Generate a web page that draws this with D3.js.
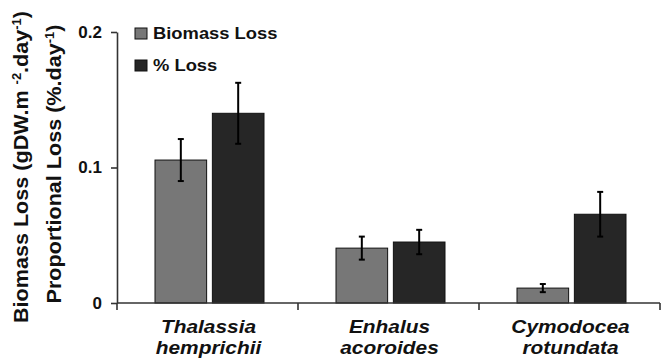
<!DOCTYPE html>
<html>
<head>
<meta charset="utf-8">
<script src="https://cdn.jsdelivr.net/npm/d3@7"></script>
<style>
  body { margin: 0; background: #fff; }
  svg { font-family: "Liberation Sans", Arial, sans-serif; font-weight: bold; }
</style>
</head>
<body>
<svg id="chart" width="662" height="363"></svg>
<script>
// species on the x axis (two lines each)
var species = [["Thalassia", "hemprichii"], ["Enhalus", "acoroides"], ["Cymodocea", "rotundata"]];
var seriesNames = ["Biomass Loss", "% Loss"];
var biomassLoss = [0.1055, 0.0405, 0.011];
var biomassErr = [0.0155, 0.0085, 0.003];
var pctLoss = [0.140, 0.045, 0.0655];
var pctErr = [0.0225, 0.009, 0.0165];
var yTicks = [0, 0.1, 0.2];
var colors = ["#777777", "#262626"];

var svg = d3.select('#chart');
var margin = {left: 117, top: 32, bottom: 303, right: 660};

var x = d3.scaleBand()
    .domain(d3.range(species.length))
    .range([margin.left, margin.right]);
var xInner = d3.scaleBand()
    .domain([0, 1])
    .range([0, 109])
    .paddingInner(0.1);
var y = d3.scaleLinear().domain([0, 0.2]).range([margin.bottom, margin.top]);

var data = [];
species.forEach(function(s, i) {
    data.push({cat: i, s: 0, v: biomassLoss[i], e: biomassErr[i]});
    data.push({cat: i, s: 1, v: pctLoss[i], e: pctErr[i]});
});

// bars
var groupOffset = (x.bandwidth() - 109) / 2 + 2;
svg.selectAll('rect.bar')
    .data(data)
    .enter().append('rect')
    .attr('class', 'bar')
    .attr('x', function(d) { return x(d.cat) + groupOffset + xInner(d.s); })
    .attr('y', function(d) { return y(d.v); })
    .attr('width', xInner.bandwidth())
    .attr('height', function(d) { return y(0) - y(d.v); })
    .attr('fill', function(d) { return colors[d.s]; })
    .attr('stroke', '#111')
    .attr('stroke-width', 1);

// error bars
var eb = svg.selectAll('g.err')
    .data(data)
    .enter().append('g')
    .attr('class', 'err')
    .attr('stroke', '#000')
    .attr('stroke-width', 2);
function cx(d) { return x(d.cat) + groupOffset + xInner(d.s) + xInner.bandwidth() / 2; }
eb.append('line')
    .attr('x1', cx).attr('x2', cx)
    .attr('y1', function(d) { return y(d.v + d.e); })
    .attr('y2', function(d) { return y(d.v - d.e); });
eb.append('line')
    .attr('x1', function(d) { return cx(d) - 3; }).attr('x2', function(d) { return cx(d) + 3; })
    .attr('y1', function(d) { return y(d.v + d.e); })
    .attr('y2', function(d) { return y(d.v + d.e); });
eb.append('line')
    .attr('x1', function(d) { return cx(d) - 3; }).attr('x2', function(d) { return cx(d) + 3; })
    .attr('y1', function(d) { return y(d.v - d.e); })
    .attr('y2', function(d) { return y(d.v - d.e); });

// y axis
var yAxis = svg.append('g')
    .attr('transform', 'translate(' + margin.left + ',0)')
    .call(d3.axisLeft(y).tickValues(yTicks).tickFormat(function(d) { return d === 0 ? '0' : d3.format('.1f')(d); }).tickSize(6).tickSizeOuter(0));
yAxis.select('.domain').attr('stroke', '#333').attr('stroke-width', 1.6);
yAxis.selectAll('.tick line').attr('stroke', '#333').attr('stroke-width', 1.6);
yAxis.selectAll('.tick text')
    .attr('x', -15)
    .style('font-size', '17px').style('font-weight', 'bold')
    .style('font-family', '"Liberation Sans", Arial, sans-serif')
    .attr('fill', '#111');

// x axis (ticks between categories)
svg.append('line')
    .attr('x1', margin.left).attr('x2', margin.right)
    .attr('y1', y(0)).attr('y2', y(0))
    .attr('stroke', '#333').attr('stroke-width', 1.6);
svg.selectAll('line.xtick')
    .data(d3.range(0, species.length + 1))
    .enter().append('line')
    .attr('class', 'xtick')
    .attr('x1', function(i) { return i === 0 ? margin.left : x(i - 1) + x.bandwidth(); })
    .attr('x2', function(i) { return i === 0 ? margin.left : x(i - 1) + x.bandwidth(); })
    .attr('y1', y(0)).attr('y2', y(0) + 7)
    .attr('stroke', '#333').attr('stroke-width', 1.6);

var labels = svg.selectAll('g.cat')
    .data(species)
    .enter().append('g')
    .attr('class', 'cat')
    .attr('transform', function(d, i) { return 'translate(' + (x(i) + x.bandwidth() / 2 + 1) + ',0) scale(1.16,1)'; });
labels.append('text')
    .attr('text-anchor', 'middle')
    .attr('y', 333)
    .style('font-style', 'italic').style('font-size', '18px').attr('fill', '#111')
    .text(function(d) { return d[0]; });
labels.append('text')
    .attr('text-anchor', 'middle')
    .attr('y', 354)
    .style('font-style', 'italic').style('font-size', '18px').attr('fill', '#111')
    .text(function(d) { return d[1]; });

// y axis title (two rotated lines)
var t1 = svg.append('text')
    .attr('transform', 'translate(28,167) rotate(-90) scale(1.08,1)')
    .attr('text-anchor', 'middle')
    .style('font-size', '20px').attr('fill', '#111');
t1.append('tspan').text('Biomass Loss (gDW.m ');
t1.append('tspan').attr('dy', -7).style('font-size', '12px').text('-2');
t1.append('tspan').attr('dy', 7).text('.day');
t1.append('tspan').attr('dy', -7).style('font-size', '12px').text('-1');
t1.append('tspan').attr('dy', 7).text(')');

var t2 = svg.append('text')
    .attr('transform', 'translate(61,164) rotate(-90) scale(1.08,1)')
    .attr('text-anchor', 'middle')
    .style('font-size', '20px').attr('fill', '#111');
t2.append('tspan').text('Proportional Loss (%.day');
t2.append('tspan').attr('dy', -7).style('font-size', '12px').text('-1');
t2.append('tspan').attr('dy', 7).text(')');

// legend
var legend = svg.selectAll('g.legend')
    .data(seriesNames)
    .enter().append('g')
    .attr('class', 'legend')
    .attr('transform', function(d, i) { return 'translate(135,' + (28 + i * 32) + ')'; });
legend.append('rect')
    .attr('width', 12).attr('height', 11)
    .attr('fill', function(d, i) { return colors[i]; })
    .attr('stroke', '#111').attr('stroke-width', 1);
legend.append('text')
    .attr('transform', 'translate(18,11) scale(1.08,1)')
    .style('font-size', '17px').attr('fill', '#111')
    .text(function(d) { return d; });
</script>
</body>
</html>
